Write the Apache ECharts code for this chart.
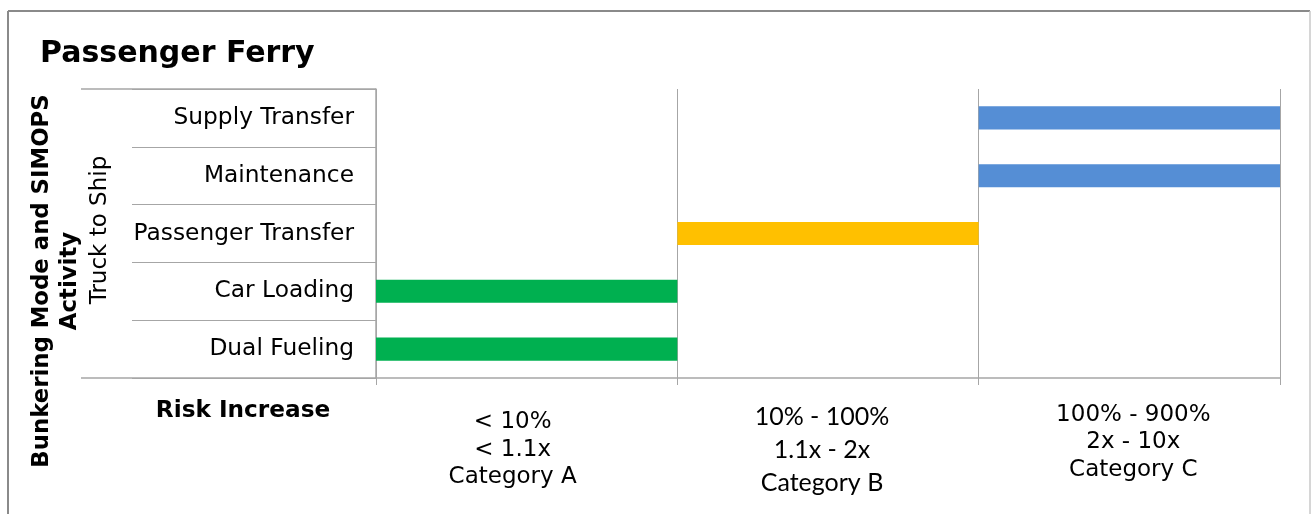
<!DOCTYPE html>
<html><head><meta charset="utf-8">
<script src="https://cdn.jsdelivr.net/npm/echarts@6/dist/echarts.min.js"></script>
<style>html,body{margin:0;padding:0;background:#fff}#c{width:1311px;height:514px}</style>
</head><body><div id="c"></div>
<script>
const chartTitle = 'Passenger Ferry';
const activities = ['Dual Fueling', 'Car Loading', 'Passenger Transfer', 'Maintenance', 'Supply Transfer'];
const riskStart = [0, 0, 1, 2, 2];
const riskSpan = [1, 1, 1, 1, 1];
const riskCategoryIndex = [0, 0, 1, 2, 2];
const riskColors = ['#00B050', '#FFC000', '#558ED5'];
const riskCategories = ['Category A', 'Category B', 'Category C'];
const riskTickLabels = [
  ['< 10%', '< 1.1x', 'Category A'],
  ['10% - 100%', '1.1x - 2x', 'Category B'],
  ['100% - 900%', '2x - 10x', 'Category C']
];
const yAxisTitle = ['Bunkering Mode and SIMOPS', 'Activity'];
const groupLabel = 'Truck to Ship';
const xAxisTitle = 'Risk Increase';

const gridColor = '#a6a6a6';
const styleKeys = ['a', 'b', 'c'];

const chart = echarts.init(document.getElementById('c'), null, {renderer: 'canvas'});
chart.setOption({
  animation: false,
  grid: {left: 376, top: 89, width: 904, height: 289},
  xAxis: [
    {
      type: 'value', min: 0, max: 3, interval: 1,
      axisLabel: {show: false},
      axisLine: {show: true, lineStyle: {color: gridColor, width: 1.5}},
      axisTick: {show: true, length: 7, lineStyle: {color: gridColor, width: 1}},
      splitLine: {show: true, lineStyle: {color: gridColor, width: 1}}
    },
    {
      type: 'category', data: riskCategories, position: 'bottom',
      axisLine: {show: false}, axisTick: {show: false}, splitLine: {show: false},
      axisLabel: {
        margin: 23,
        interval: 0,
        formatter: function (v, i) {
          const k = styleKeys[i];
          return riskTickLabels[i].map((t, j) => '{' + k + (j === 0 ? '0' : '') + '|' + t + '}').join('\n');
        },
        rich: {
          a0: {fontFamily: 'DejaVu Sans', fontSize: 23, color: '#000', lineHeight: 36, padding: [7, 28, 0, 0]},
          a:  {fontFamily: 'DejaVu Sans', fontSize: 23, color: '#000', lineHeight: 27, padding: [0, 28, 0, 0]},
          b0: {fontFamily: 'Lato', fontSize: 25, color: '#000', lineHeight: 32, padding: [0, 12, 0, 0]},
          b:  {fontFamily: 'Lato', fontSize: 25, color: '#000', lineHeight: 33, padding: [0, 12, 0, 0]},
          c0: {fontFamily: 'DejaVu Sans', fontSize: 23, color: '#000', lineHeight: 27.5, padding: [0, 0, 0, 8]},
          c:  {fontFamily: 'DejaVu Sans', fontSize: 23, color: '#000', lineHeight: 27.5, padding: [0, 0, 0, 8]}
        }
      }
    }
  ],
  yAxis: [
    {
      type: 'category', data: activities,
      axisLine: {show: true, lineStyle: {color: gridColor, width: 1.5}},
      axisTick: {show: true, length: 244, lineStyle: {color: gridColor, width: 1}},
      axisLabel: {margin: 22, fontFamily: 'DejaVu Sans', fontSize: 23.3, color: '#000'},
      splitLine: {show: false}
    },
    {
      type: 'category', data: [''], position: 'left', offset: 0,
      axisLine: {show: false},
      axisTick: {show: true, length: 295, lineStyle: {color: gridColor, width: 1.5}},
      axisLabel: {show: false},
      splitLine: {show: false}
    }
  ],
  series: [
    {
      type: 'bar', stack: 'risk', xAxisIndex: 0, yAxisIndex: 0, barWidth: '40%', silent: true,
      itemStyle: {color: 'rgba(0,0,0,0)'},
      data: riskStart
    },
    {
      type: 'bar', stack: 'risk', xAxisIndex: 0, yAxisIndex: 0, barWidth: '40%', silent: true,
      data: riskSpan.map((v, i) => ({value: v, itemStyle: {color: riskColors[riskCategoryIndex[i]]}}))
    }
  ],
  graphic: [
    {type: 'line', shape: {x1: 8, y1: 11, x2: 1310, y2: 11}, style: {stroke: '#8a8a8a', lineWidth: 2}, silent: true},
    {type: 'line', shape: {x1: 8, y1: 11, x2: 8, y2: 514}, style: {stroke: '#8a8a8a', lineWidth: 2}, silent: true},
    {type: 'line', shape: {x1: 1310, y1: 11, x2: 1310, y2: 514}, style: {stroke: '#c8c8c8', lineWidth: 1.5}, silent: true},
    {type: 'text', x: 40, y: 54, style: {text: chartTitle, fontFamily: 'DejaVu Sans', fontWeight: 'bold', fontSize: 30, fill: '#000', textAlign: 'left', textVerticalAlign: 'middle'}},
    {type: 'text', x: 56, y: 281, rotation: Math.PI / 2, style: {text: yAxisTitle.join('\n'), fontFamily: 'DejaVu Sans', fontWeight: 'bold', fontSize: 22.8, lineHeight: 28, fill: '#000', textAlign: 'center', textVerticalAlign: 'middle'}},
    {type: 'text', x: 100, y: 230, rotation: Math.PI / 2, style: {text: groupLabel, fontFamily: 'DejaVu Sans', fontSize: 23, fill: '#000', textAlign: 'center', textVerticalAlign: 'middle'}},
    {type: 'text', x: 243, y: 411, style: {text: xAxisTitle, fontFamily: 'DejaVu Sans', fontWeight: 'bold', fontSize: 23.2, fill: '#000', textAlign: 'center', textVerticalAlign: 'middle'}}
  ]
});
</script>
</body></html>
